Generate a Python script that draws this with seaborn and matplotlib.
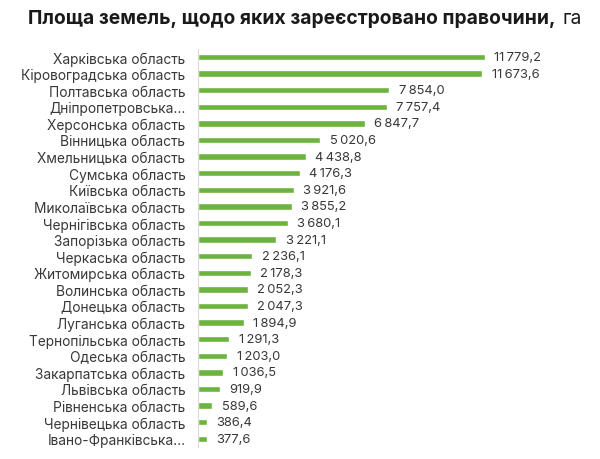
import matplotlib
matplotlib.use("Agg")
import matplotlib.pyplot as plt
import seaborn as sns
import pandas as pd

# === Data ===
regions = [
    "Харківська область",
    "Кіровоградська область",
    "Полтавська область",
    "Дніпропетровська…",
    "Херсонська область",
    "Вінницька область",
    "Хмельницька область",
    "Сумська область",
    "Київська область",
    "Миколаївська область",
    "Чернігівська область",
    "Запорізька область",
    "Черкаська область",
    "Житомирська область",
    "Волинська область",
    "Донецька область",
    "Луганська область",
    "Тернопільська область",
    "Одеська область",
    "Закарпатська область",
    "Львівська область",
    "Рівненська область",
    "Чернівецька область",
    "Івано-Франківська…",
]
area_ha = [
    11779.2, 11673.6, 7854.0, 7757.4, 6847.7, 5020.6, 4438.8, 4176.3,
    3921.6, 3855.2, 3680.1, 3221.1, 2236.1, 2178.3, 2052.3, 2047.3,
    1894.9, 1291.3, 1203.0, 1036.5, 919.9, 589.6, 386.4, 377.6,
]

df = pd.DataFrame({"region": regions, "area": area_ha})


def fmt(v):
    s = f"{v:,.1f}".replace(",", "\u2009").replace(".", ",")
    return s


sns.set_theme(style="white")
plt.rcParams["font.family"] = ["Inter", "DejaVu Sans"]

fig = plt.figure(figsize=(6, 4.6), dpi=100)
ax = fig.add_axes([0.33, 0.026, 0.67, 0.866])

sns.barplot(data=df, x="area", y="region", color="#6db33f", width=0.38,
            saturation=1, ax=ax)

for i, v in enumerate(df["area"]):
    ax.text(v + 380, i, fmt(v), va="center", ha="left", fontsize=9.3, color="#383838")

ax.set_xlim(0, 16500)
ax.set_ylim(len(regions) - 0.5, -0.5)
ax.set_xlabel("")
ax.set_ylabel("")
ax.set_xticks([])
ax.tick_params(axis="y", length=0, pad=9, labelsize=9.9, labelcolor="#383838")
for side in ["top", "right", "bottom"]:
    ax.spines[side].set_visible(False)
ax.spines["left"].set_color("#d9d9d9")
ax.spines["left"].set_linewidth(0.8)

title = fig.text(0.047, 0.958, "Площа земель, щодо яких зареєстровано правочини,", fontsize=13.9,
                 fontweight="bold", color="#1a1a1a", va="center", ha="left")
ax.annotate("га", xy=(1, 0), xycoords=title, xytext=(5, 0), textcoords="offset points",
            fontsize=13.9, color="#1a1a1a", va="bottom", ha="left")

fig.savefig("out.png", dpi=100)
